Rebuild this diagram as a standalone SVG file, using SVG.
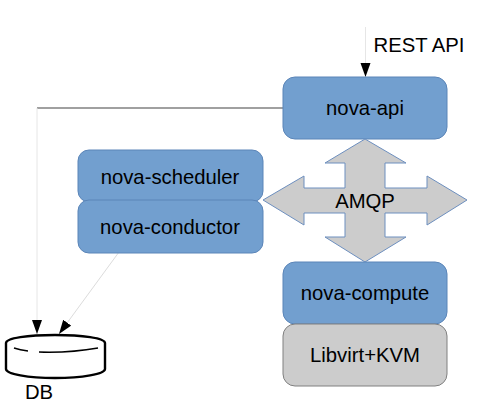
<svg xmlns="http://www.w3.org/2000/svg" width="500" height="420" viewBox="0 0 500 420">
<style>
text{font-family:"Liberation Sans",Arial,sans-serif;font-size:20.300px;fill:#000;text-anchor:middle}
.b{fill:#729fcf;stroke:#5b85b8;stroke-width:1}
.g{fill:#cccccc;stroke:#6d8fbf;stroke-width:1}
.d{fill:none;stroke:#000;stroke-width:2.400}
.l{fill:none;stroke-width:1}
</style>
<defs><marker id="a" markerUnits="userSpaceOnUse" markerWidth="15" markerHeight="11" refX="14" refY="5" orient="auto"><path d="M0 0L14 5L0 10Z" fill="#000"/></marker></defs>
<rect width="500" height="420" fill="#fff"/>
<g id="connectors">
<path class="l" stroke="#e6e6e6" d="M365.500 27V77" marker-end="url(#a)"/>
<path d="M283 108H37" fill="none" stroke="#808080" stroke-width="1.300"/>
<path class="l" stroke="#e6e6e6" d="M37 108V334" marker-end="url(#a)"/>
<path class="l" stroke="#dcdcdc" d="M119 252L59 334" marker-end="url(#a)"/>
</g>
<g id="nova-api"><rect class="b" x="283" y="77" width="164" height="62" rx="12"/><text x="365" y="115">nova-api</text></g>
<g id="nova-scheduler"><rect class="b" x="78" y="150" width="185" height="52" rx="11"/><text x="170" y="184">nova-scheduler</text></g>
<g id="nova-conductor"><rect class="b" x="78" y="200" width="185" height="53" rx="11"/><text x="170" y="234">nova-conductor</text></g>
<g id="amqp"><path class="g" d="M365 139L406 163H385V188H427V176L467 200L427 225V213H385V237H406L365 262L325 237H345V213H304V225L263 200L304 176V188H345V163H325Z"/><text x="365" y="208">AMQP</text></g>
<g id="nova-compute"><rect class="b" x="283" y="262" width="164" height="62" rx="12"/><text x="365" y="300">nova-compute</text></g>
<g id="libvirt"><rect x="283" y="324" width="164" height="62" rx="12" fill="#cccccc" stroke="#808080"/><text x="365" y="362">Libvirt+KVM</text></g>
<g id="db">
<path class="d" d="M6 343C6 338 28 335 55 335C82 335 105 338 105 343V369C105 374 82 378 55 378C28 378 6 374 6 369Z"/>
<path class="d" d="M14 348Q20 350 28 351M39 352Q70 353 98 348" style="stroke-width:1.500"/>
<text x="39" y="399">DB</text>
</g>
<text x="419" y="52">REST API</text>
</svg>
